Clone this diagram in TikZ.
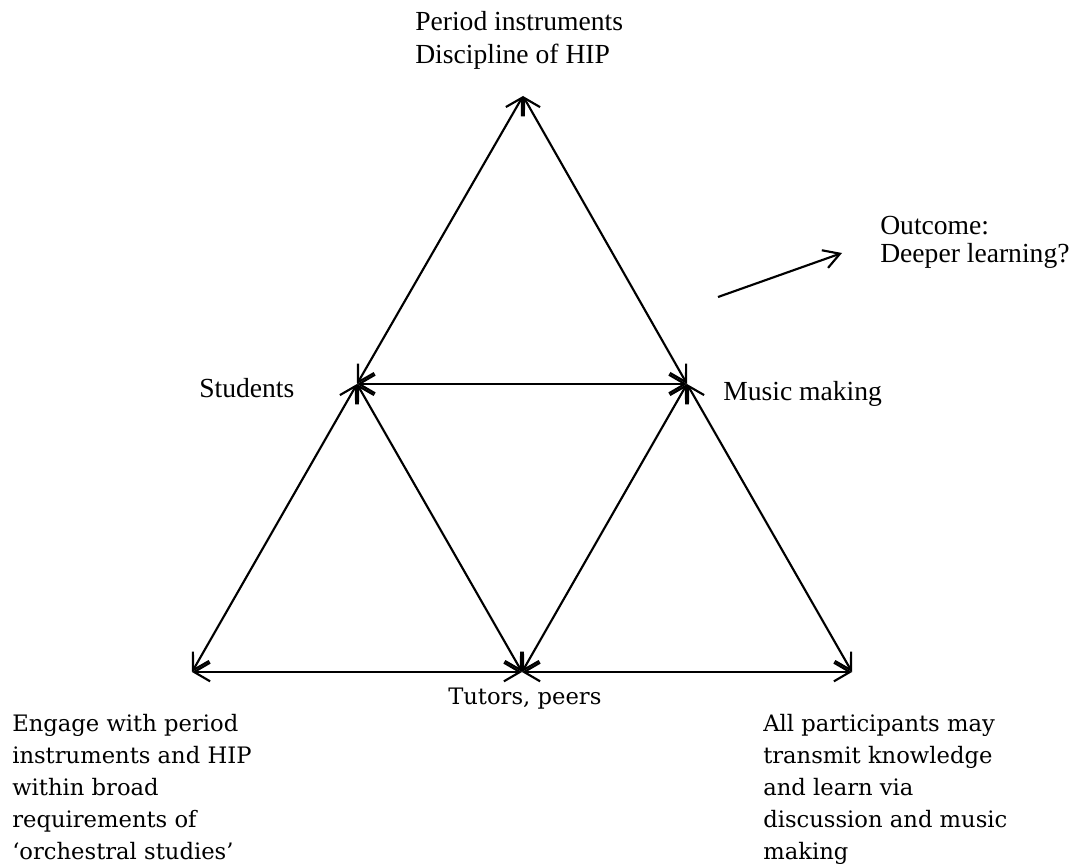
\documentclass[tikz,border=0pt]{standalone}
\usepackage{fontspec}
\setmainfont{Liberation Serif}
\newfontfamily\notefont{DejaVu Serif}
\usetikzlibrary{arrows.meta}
\begin{document}
\begin{tikzpicture}
[x=0.75pt, y=-0.75pt,
 e/.style={line width=1.6pt,{Straight Barb[length=12pt,width=14pt]}-{Straight Barb[length=12pt,width=14pt]}},
 o/.style={line width=1.6pt,-{Straight Barb[length=12pt,width=14pt]}},
 lbl/.style={inner sep=0pt,anchor=north west,align=left,font=\fontsize{20.7}{24.75}\selectfont},
 note/.style={inner sep=0pt,anchor=north west,align=left,font=\notefont\fontsize{17}{24}\selectfont}]
\useasboundingbox (0,0) rectangle (1073,863);
\coordinate (a) at (523,96);\coordinate (s) at (357,384);\coordinate (m) at (687,384);
\coordinate (bl) at (192,672);\coordinate (bm) at (522,672);\coordinate (br) at (852,672);
\coordinate (o1) at (718,297);\coordinate (o2) at (842,253);
\draw[e](a)--(s);\draw[e](a)--(m);\draw[e](s)--(m);
\draw[e](s)--(bl);\draw[e](s)--(bm);\draw[e](m)--(bm);\draw[e](m)--(br);
\draw[e](bl)--(bm);\draw[e](bm)--(br);
\draw[o](o1)--(o2);
\node(top) at (415,11)[lbl]{Period instruments\\Discipline of HIP};
\node(stud) at (199,378)[lbl]{Students};
\node(music) at (723,381)[lbl]{Music making};
\node(out) at (880,216)[lbl,font=\fontsize{20.7}{21}\selectfont]{Outcome:\\Deeper learning?};
\node(tut) at (448,688)[note]{Tutors, peers};
\node(eng) at (12,714)[note]{Engage with period\\instruments and HIP\\within broad\\requirements of\\‘orchestral studies’};
\node(all) at (763,714)[note]{All participants may\\transmit knowledge\\and learn via\\discussion and music\\making};
\end{tikzpicture}
\end{document}
